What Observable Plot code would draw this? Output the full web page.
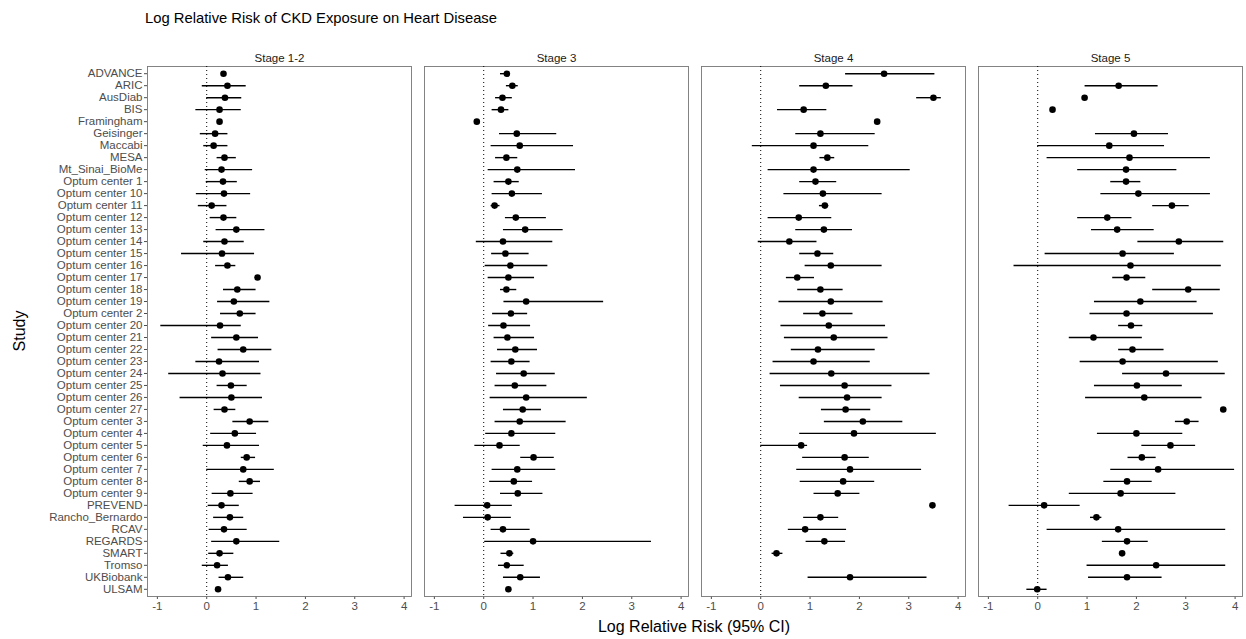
<!DOCTYPE html>
<html>
<head>
<meta charset="utf-8">
<script src="https://cdn.jsdelivr.net/npm/d3@7"></script>
<script src="https://cdn.jsdelivr.net/npm/@observablehq/plot@0.6"></script>
<style>
  html, body { margin: 0; padding: 0; background: #fff; }
  #wrap { position: relative; width: 1246px; height: 639px; font-family: "Liberation Sans", Arial, sans-serif; }
  #title { position: absolute; left: 145px; top: 10px; font-size: 14.8px; color: #000; white-space: nowrap; }
  #xlab { position: absolute; left: 145px; width: 1098px; top: 618px; text-align: center; font-size: 16px; color: #000; }
  #ylab { position: absolute; left: 20px; top: 331px; font-size: 16px; color: #000; transform: translate(-50%, -50%) rotate(-90deg); white-space: nowrap; }
  #chart { position: absolute; left: 0; top: 40px; }
</style>
</head>
<body>
<div id="wrap">
  <div id="title">Log Relative Risk of CKD Exposure on Heart Disease</div>
  <div id="chart"></div>
  <div id="ylab">Study</div>
  <div id="xlab">Log Relative Risk (95% CI)</div>
</div>
<script>
const studies = ["ADVANCE","ARIC","AusDiab","BIS","Framingham","Geisinger","Maccabi","MESA","Mt_Sinai_BioMe",
  "Optum center 1","Optum center 10","Optum center 11","Optum center 12","Optum center 13","Optum center 14",
  "Optum center 15","Optum center 16","Optum center 17","Optum center 18","Optum center 19","Optum center 2",
  "Optum center 20","Optum center 21","Optum center 22","Optum center 23","Optum center 24","Optum center 25",
  "Optum center 26","Optum center 27","Optum center 3","Optum center 4","Optum center 5","Optum center 6",
  "Optum center 7","Optum center 8","Optum center 9","PREVEND","Rancho_Bernardo","RCAV","REGARDS","SMART",
  "Tromso","UKBiobank","ULSAM"];
const stages = ["Stage 1-2","Stage 3","Stage 4","Stage 5"];
const xTicks = [-1,0,1,2,3,4];

// Stage 1-2
const est12 = [0.34,0.42,0.37,0.26,0.26,0.17,0.14,0.36,0.30,0.33,0.35,0.10,0.34,0.60,0.36,
  0.31,0.42,1.03,0.62,0.55,0.67,0.27,0.60,0.74,0.25,0.32,0.49,0.50,0.36,
  0.87,0.57,0.41,0.81,0.74,0.87,0.48,0.30,0.47,0.35,0.60,0.26,0.21,0.43,0.23];
const lo12 = [0.30,-0.09,0.00,-0.22,0.22,-0.13,-0.06,0.21,-0.03,-0.01,-0.21,-0.17,0.07,0.19,-0.06,
  -0.51,0.18,0.99,0.34,0.22,0.28,-0.93,0.10,0.23,-0.22,-0.77,0.21,-0.54,0.15,
  0.53,0.08,-0.07,0.70,0.00,0.66,0.11,0.03,0.14,0.05,0.10,0.04,-0.09,0.25,0.19];
const hi12 = [0.38,0.80,0.71,0.70,0.30,0.43,0.43,0.60,0.93,0.62,0.89,0.41,0.61,1.18,0.76,
  0.97,0.59,1.07,1.00,1.28,1.00,0.70,1.05,1.32,1.07,1.10,0.82,1.13,0.59,
  1.26,1.01,1.07,0.99,1.37,1.09,0.94,0.66,0.75,0.82,1.48,0.55,0.44,0.75,0.27];

// Stage 3
const est3 = [0.47,0.58,0.38,0.35,-0.14,0.67,0.73,0.46,0.68,0.50,0.57,0.22,0.65,0.84,0.39,
  0.44,0.54,0.50,0.46,0.86,0.55,0.40,0.48,0.64,0.56,0.81,0.63,0.86,0.79,
  0.73,0.56,0.32,1.01,0.68,0.61,0.69,0.07,0.08,0.39,1.00,0.52,0.47,0.74,0.50];
const lo3 = [0.34,0.46,0.24,0.17,-0.18,0.32,0.15,0.24,0.09,0.21,0.17,0.15,0.44,0.40,-0.15,
  0.16,0.03,0.09,0.34,0.41,0.18,0.10,0.21,0.28,0.15,0.26,0.23,0.13,0.40,
  0.23,0.04,-0.18,0.75,0.17,0.12,0.34,-0.58,-0.41,0.15,0.02,0.35,0.30,0.40,0.46];
const hi3 = [0.54,0.70,0.58,0.51,-0.10,1.48,1.82,0.69,1.86,0.72,1.19,0.33,1.27,1.61,1.40,
  0.92,1.30,1.03,0.67,2.43,0.89,0.95,1.03,1.09,0.94,1.45,1.28,2.10,1.17,
  1.67,1.46,0.74,1.43,1.46,0.99,1.20,0.58,0.56,0.94,3.40,0.61,0.82,1.15,0.54];

// Stage 4 (Tromso and ULSAM not estimated)
const est4 = [2.50,1.32,3.50,0.87,2.36,1.21,1.07,1.35,1.07,1.11,1.26,1.30,0.77,1.28,0.58,
  1.15,1.42,0.74,1.21,1.42,1.25,1.38,1.48,1.16,1.07,1.43,1.70,1.75,1.72,
  2.07,1.89,0.82,1.70,1.81,1.67,1.56,3.48,1.21,0.90,1.29,0.32,null,1.81,null];
const lo4 = [1.72,0.79,3.16,0.34,2.32,0.71,-0.17,1.20,0.15,0.79,0.47,1.19,0.15,0.71,-0.05,
  0.79,0.90,0.52,0.75,0.37,0.87,0.41,0.48,0.62,0.25,0.19,0.40,0.78,1.23,
  1.29,0.79,0.00,0.85,0.73,0.80,1.08,3.44,0.87,0.56,0.92,0.23,null,0.96,null];
const hi4 = [3.53,1.87,3.66,1.34,2.40,2.32,2.19,1.50,3.03,1.54,2.46,1.38,1.44,1.86,1.14,
  1.48,2.46,1.09,1.67,2.48,1.87,2.53,2.58,2.32,2.22,3.43,2.66,2.46,2.23,
  2.88,3.56,0.95,2.20,3.26,2.31,2.01,3.52,1.58,1.74,1.72,0.45,null,3.37,null];

// Stage 5 (ADVANCE and Framingham not estimated)
const est5 = [null,1.64,0.95,0.30,null,1.95,1.45,1.86,1.79,1.79,2.04,2.72,1.41,1.61,2.86,
  1.72,1.88,1.80,3.05,2.08,1.80,1.89,1.13,1.92,1.72,2.60,2.01,2.16,3.76,
  3.02,2.00,2.69,2.11,2.44,1.81,1.68,0.13,1.19,1.63,1.81,1.71,2.40,1.81,-0.01];
const lo5 = [null,0.96,0.91,0.26,null,1.17,0.00,0.19,0.81,1.48,1.28,2.33,0.81,1.09,2.03,
  0.15,-0.48,1.52,2.33,1.15,1.06,1.64,0.64,1.64,0.86,1.72,1.15,0.97,3.72,
  2.79,1.21,2.11,1.83,1.48,1.34,0.64,-0.58,1.07,0.19,1.31,1.67,1.00,1.03,-0.22];
const hi5 = [null,2.44,0.99,0.34,null,2.65,2.57,3.50,2.82,2.09,3.50,3.07,1.91,2.36,3.77,
  2.77,3.72,2.19,3.70,3.23,3.56,2.13,2.12,2.56,3.66,3.80,2.93,3.33,3.80,
  3.27,2.94,3.20,2.40,3.99,2.32,2.80,0.86,1.30,3.81,2.24,1.75,3.81,2.52,0.19];

const series = [[est12, lo12, hi12], [est3, lo3, hi3], [est4, lo4, hi4], [est5, lo5, hi5]];
const data = [];
stages.forEach((stage, s) => {
  const [e, l, h] = series[s];
  studies.forEach((study, i) => {
    if (e[i] != null) data.push({stage, study, est: e[i], lo: l[i], hi: h[i]});
  });
});

const chart = Plot.plot({
  width: 1246,
  height: 599,
  marginLeft: 145,
  marginRight: 3,
  marginTop: 26,
  marginBottom: 43,
  style: {fontFamily: "Liberation Sans, Arial, sans-serif", fontSize: "11.5px", color: "#4d4d4d", background: "#fff"},
  fx: {domain: stages, paddingInner: 0.047, paddingOuter: 0, label: null, axis: "top", tickSize: 0, tickPadding: 5},
  x: {domain: [-1.2, 4.15], ticks: xTicks, tickFormat: d => String(d), label: null, tickSize: 3, tickPadding: 2},
  y: {domain: studies, type: "point", padding: 0.6, label: null, tickSize: 3, tickPadding: 2},
  marks: [
    Plot.frame({stroke: "#777", strokeWidth: 0.9}),
    Plot.ruleX([0], {stroke: "#000", strokeWidth: 1, strokeDasharray: "1,3"}),
    Plot.ruleY(data, {fx: "stage", y: "study", x1: "lo", x2: "hi", stroke: "#000", strokeWidth: 1.4}),
    Plot.dot(data, {fx: "stage", x: "est", y: "study", r: 3.3, fill: "#000", stroke: "none"})
  ]
});
document.getElementById("chart").appendChild(chart);
// strip labels a touch darker, as in the reference
chart.querySelectorAll("[aria-label='fx-axis tick label'] text").forEach(t => t.setAttribute("fill", "#1a1a1a"));
</script>
</body>
</html>
